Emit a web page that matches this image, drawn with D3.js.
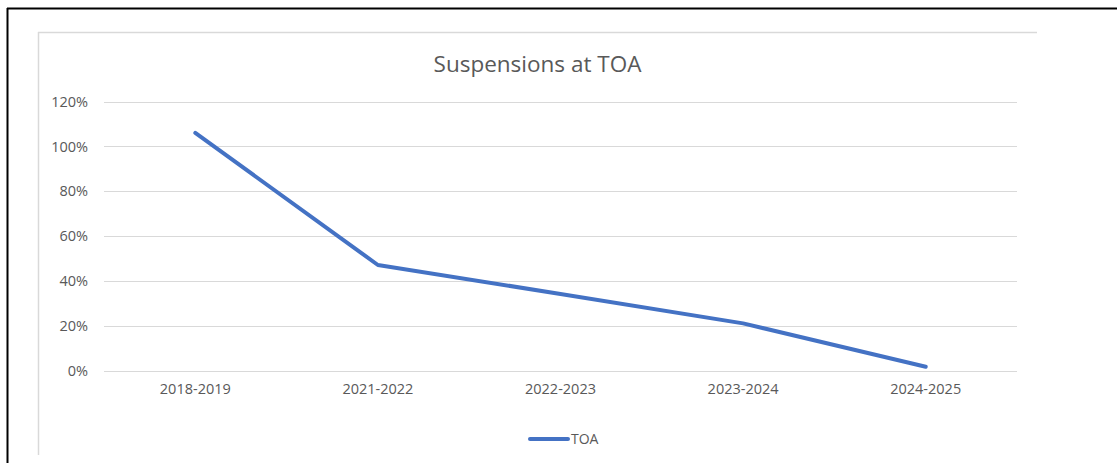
<!DOCTYPE html>
<html>
<head>
<meta charset="utf-8">
<script src="https://cdn.jsdelivr.net/npm/d3@7"></script>
<style>
  html, body { margin: 0; padding: 0; background: #fff; }
  svg { display: block; }
  text { font-family: "Open Sans", "Noto Sans", sans-serif; fill: #595959; }
</style>
</head>
<body>
<svg id="chart" width="1117" height="463"></svg>
<script>
const categories = ["2018-2019", "2021-2022", "2022-2023", "2023-2024", "2024-2025"];
const seriesName = "TOA";
const values = [1.06, 0.472, 0.343, 0.212, 0.019];
const yTicks = [0, 0.2, 0.4, 0.6, 0.8, 1.0, 1.2];
const title = "Suspensions at TOA";

(function () {
const svg = d3.select("#chart");
const W = 1117, H = 463;

// outer black frame (top & left)
svg.append("line").attr("x1", 7).attr("x2", W).attr("y1", 8.5).attr("y2", 8.5)
  .attr("stroke", "#000").attr("stroke-width", 2);
svg.append("line").attr("x1", 7.5).attr("x2", 7.5).attr("y1", 8).attr("y2", H)
  .attr("stroke", "#000").attr("stroke-width", 2);

// chart area border (light)
svg.append("line").attr("x1", 38).attr("x2", 1037).attr("y1", 32.5).attr("y2", 32.5)
  .attr("stroke", "#d9d9d9").attr("stroke-width", 1.5);
svg.append("line").attr("x1", 38.5).attr("x2", 38.5).attr("y1", 32).attr("y2", 455)
  .attr("stroke", "#d9d9d9").attr("stroke-width", 1.5);

const pLeft = 104, pRight = 1017, pTop = 101.5, pBottom = 371;

const x = d3.scaleBand().domain(categories).range([pLeft, pRight]);
const y = d3.scaleLinear().domain([0, 1.2]).range([pBottom, pTop]);

// gridlines
svg.append("g").selectAll("line").data(yTicks).join("line")
  .attr("x1", pLeft).attr("x2", pRight)
  .attr("y1", d => Math.round(y(d)) + 0.5).attr("y2", d => Math.round(y(d)) + 0.5)
  .attr("stroke", "#d9d9d9").attr("stroke-width", 1);

// y axis labels
const yAxis = d3.axisLeft(y).tickValues(yTicks).tickFormat(d3.format(".0%")).tickSize(0).tickPadding(0);
const gy = svg.append("g").attr("transform", `translate(${88},0)`).call(yAxis);
gy.select(".domain").remove();
gy.selectAll("text").style("font-size", "14.5px").attr("fill", "#595959")
  .style("font-family", "'Open Sans', sans-serif");

// x axis labels
const xAxis = d3.axisBottom(x).tickSize(0).tickPadding(0);
const gx = svg.append("g").attr("transform", `translate(0,${384})`).call(xAxis);
gx.select(".domain").remove();
gx.selectAll("text").style("font-size", "14.5px").attr("fill", "#595959")
  .style("font-family", "'Open Sans', sans-serif");

// line
const line = d3.line().x((d, i) => x(categories[i]) + x.bandwidth() / 2).y(d => y(d));
svg.append("path").datum(values).attr("d", line)
  .attr("fill", "none").attr("stroke", "#4472C4").attr("stroke-width", 4)
  .attr("stroke-linejoin", "round").attr("stroke-linecap", "round");

// title
svg.append("text").attr("x", 537.5).attr("y", 72).attr("text-anchor", "middle")
  .style("font-size", "22.5px").text(title);

// legend
svg.append("line").attr("x1", 530).attr("x2", 568).attr("y1", 439).attr("y2", 439)
  .attr("stroke", "#4472C4").attr("stroke-width", 4).attr("stroke-linecap", "round");
svg.append("text").attr("x", 571).attr("y", 444).style("font-size", "14px").text(seriesName);
})();
</script>
</body>
</html>
